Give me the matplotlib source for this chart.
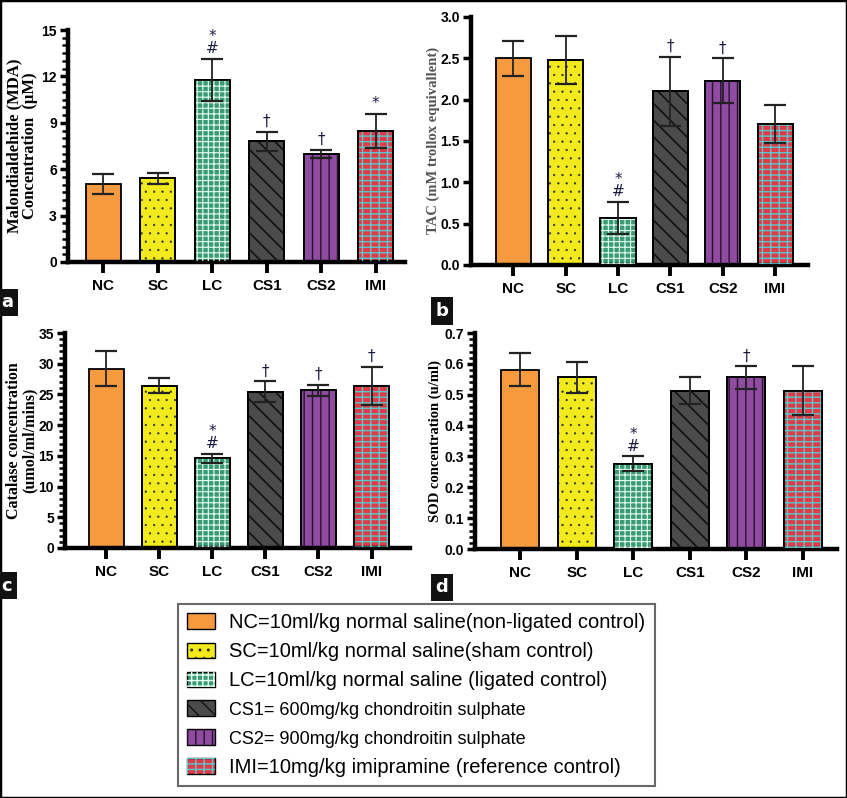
import numpy as np
import matplotlib
matplotlib.use("Agg")
import matplotlib.pyplot as plt
from matplotlib.patches import Patch, Rectangle
from matplotlib.legend_handler import HandlerTuple
from matplotlib.ticker import MultipleLocator, FormatStrFormatter

groups = ["NC", "SC", "LC", "CS1", "CS2", "IMI"]
legend_labels = [
    "NC=10ml/kg normal saline(non-ligated control)",
    "SC=10ml/kg normal saline(sham control)",
    "LC=10ml/kg normal saline (ligated control)",
    "CS1= 600mg/kg chondroitin sulphate",
    "CS2= 900mg/kg chondroitin sulphate",
    "IMI=10mg/kg imipramine (reference control)",
]

mda_mean = [5.05, 5.41, 11.78, 7.80, 6.98, 8.47]
mda_err = [0.63, 0.34, 1.34, 0.62, 0.26, 1.10]
mda_marks = ["", "", "*\n#", "†", "†", "*"]

tac_mean = [2.50, 2.48, 0.57, 2.10, 2.23, 1.70]
tac_err = [0.21, 0.29, 0.19, 0.42, 0.27, 0.23]
tac_marks = ["", "", "*\n#", "†", "†", ""]

cat_mean = [29.2, 26.4, 14.6, 25.45, 25.7, 26.4]
cat_err = [2.85, 1.2, 0.7, 1.7, 0.9, 3.1]
cat_marks = ["", "", "*\n#", "†", "†", "†"]

sod_mean = [0.581, 0.556, 0.276, 0.513, 0.556, 0.513]
sod_err = [0.054, 0.050, 0.024, 0.043, 0.036, 0.079]
sod_marks = ["", "", "*\n#", "", "†", ""]

# fill, hatch, hatch colour, hatch linewidth
styles = [
    ("#F59A3E", "", "black", 1.0),
    ("#F2EA1C", "..", "#333333", 0.4),
    ("#3A9A74", "+++", "#E6FFF5", 0.8),
    ("#4B4B4B", "\\\\", "#111111", 1.2),
    ("#8E4B9F", "||", "#2a0f30", 1.0),
    ("#E03A46", "---||", "#5CC7CC", 1.0),
]

plt.rcParams["font.family"] = ["Liberation Sans", "DejaVu Sans"]
plt.rcParams["font.weight"] = "bold"

fig = plt.figure(figsize=(8.47, 7.98), dpi=100)


def panel(rect, means, errs, marks, ylim, major, minor, fmt, ylabel, xlim,
          width, label_x, label_color="black", label_size=10):
    ax = fig.add_axes(rect)
    x = np.arange(len(groups))
    for i in range(len(groups)):
        fc, h, hc, hlw = styles[i]
        ax.bar(x[i], means[i], width, color=fc, edgecolor="black", linewidth=1.3, zorder=2)
        if h:
            with plt.rc_context({"hatch.linewidth": hlw}):
                ax.bar(x[i], means[i], width, color="none", edgecolor=hc,
                       hatch=h, linewidth=0, zorder=3)
            ax.bar(x[i], means[i], width, color="none", edgecolor="black",
                   linewidth=1.3, zorder=4)
    ax.errorbar(x, means, yerr=errs, fmt="none", ecolor="#222222",
                elinewidth=1.3, capsize=8, capthick=1.6, zorder=5)
    for i, m in enumerate(marks):
        if m:
            ax.annotate(m, (x[i], means[i] + errs[i]), xytext=(0, 2),
                        textcoords="offset points", ha="center", va="bottom",
                        fontsize=11, color="#1a1a40", linespacing=0.75,
                        family="DejaVu Sans", fontweight="normal")
    ax.set_xlim(*xlim)
    ax.set_ylim(*ylim)
    ax.yaxis.set_major_locator(MultipleLocator(major))
    if minor:
        ax.yaxis.set_minor_locator(MultipleLocator(minor))
    ax.yaxis.set_major_formatter(FormatStrFormatter(fmt))
    ax.set_xticks(x)
    ax.set_xticklabels(groups)
    for s in ["top", "right"]:
        ax.spines[s].set_visible(False)
    ax.spines["left"].set_linewidth(3.2)
    ax.spines["bottom"].set_linewidth(3.2)
    ax.tick_params(axis="y", which="major", length=6, width=2.5, labelsize=10, pad=2)
    ax.tick_params(axis="y", which="minor", length=4, width=1.8)
    ax.tick_params(axis="x", length=8, width=2.8, labelsize=11, pad=4)
    ax.set_ylabel(ylabel, family="Liberation Serif", fontweight="bold",
                  fontsize=label_size, color=label_color, linespacing=1.0)
    ax.yaxis.set_label_coords(label_x, 0.5)
    return ax


panel([0.0803, 0.6717, 0.398, 0.2907], mda_mean, mda_err, mda_marks,
      (0, 15), 3, 0.5, "%d", "Malondialdehide (MDA)\nConcentration  (µM)",
      (-0.65, 5.54), 0.64, -0.088, label_size=12)
panel([0.556, 0.668, 0.398, 0.3108], tac_mean, tac_err, tac_marks,
      (0, 3.0), 0.5, None, "%.1f", "TAC (mM trollox equivallent)",
      (-0.81, 5.63), 0.67, -0.092, label_color="#555555", label_size=10.5)
panel([0.0767, 0.3133, 0.407, 0.2694], cat_mean, cat_err, cat_marks,
      (0, 35), 5, 1, "%d", "Catalase concentration\n(umol/ml/mins)",
      (-0.78, 5.72), 0.66, -0.078, label_size=11.5)
panel([0.5608, 0.312, 0.427, 0.2707], sod_mean, sod_err, sod_marks,
      (0, 0.7), 0.1, 0.02, "%.1f", "SOD concentration (u/ml)",
      (-0.80, 5.60), 0.67, -0.09, label_size=10.5)

# panel letters
for px, py, t in [(0.002, 0.615, "a"), (0.514, 0.604, "b"), (0.002, 0.260, "c"), (0.514, 0.258, "d")]:
    fig.text(px, py, t, color="white", fontsize=13, family="DejaVu Sans", fontweight="bold",
             bbox=dict(boxstyle="square,pad=0.25", fc="#111111", ec="none"))

# legend
handles = []
for fc, h, hc, hlw in styles:
    base = Patch(facecolor=fc, edgecolor="black", linewidth=1.0)
    if h:
        handles.append((base, Patch(facecolor="none", edgecolor=hc, hatch=h, linewidth=0)))
    else:
        handles.append(base)
leg = fig.legend(handles, legend_labels, loc="upper left", bbox_to_anchor=(0.2102, 0.243),
                 borderaxespad=0, fancybox=False, edgecolor="#444444",
                 handler_map={tuple: HandlerTuple(ndivide=1)},
                 prop={"family": "Liberation Sans", "size": 14.5, "weight": "normal"},
                 handlelength=1.4, handleheight=0.8, labelspacing=0.5,
                 borderpad=0.45, handletextpad=0.7)
leg.get_frame().set_linewidth(1.5)
for t in leg.get_texts()[3:5]:
    t.set_fontsize(13)

fig.add_artist(Rectangle((0, 0), 1, 1, transform=fig.transFigure, fill=False,
                         lw=2.5, ec="black"))

fig.savefig("out.png", dpi=100)
